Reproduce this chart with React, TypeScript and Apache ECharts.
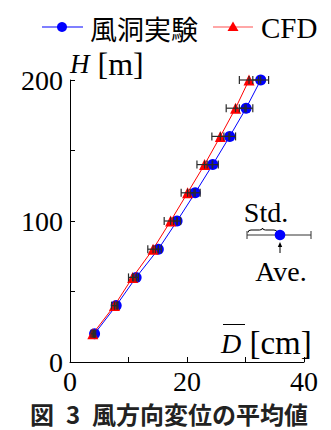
import React, { useEffect, useRef } from "react";
import * as echarts from "echarts";

const heights = [20, 40, 60, 80, 100, 120, 140, 160, 180, 200];
const windMean = [4.2, 7.9, 11.3, 15.1, 18.3, 21.4, 24.4, 27.3, 30.1, 32.6];
const windStd = [0.2, 0.3, 0.4, 0.5, 0.6, 0.85, 0.95, 1.0, 1.15, 1.35];
const cfdMean = [3.9, 7.6, 10.7, 14.2, 17.2, 20.1, 23.0, 25.7, 28.3, 30.6];
const cfdStd = [0.3, 0.5, 0.7, 0.9, 1.1, 1.1, 1.3, 1.45, 1.6, 1.65];
const xTickLabels = [0, 20, 40];
const yTickLabels = [0, 100, 200];

const SERIF = "Liberation Serif";
const JP = "Noto Sans CJK JP";

let braceRegistered = false;
function registerBrace() {
  if (braceRegistered) return;
  braceRegistered = true;
  const d =
    "M0,4.5 Q0,2 3,2 L11.5,2 Q14.5,2 14.5,0 Q14.5,2 17.5,2 L26,2 Q29,2 29,4.5";
  echarts.graphic.registerShape("brace", echarts.graphic.extendPath(d, {}) as any);
}

function errorRender(params: any, api: any) {
  const x = api.value(0);
  const y = api.value(1);
  const s = api.value(2);
  const c = api.coord([x, y]);
  const l = api.coord([x - s, y]);
  const r = api.coord([x + s, y]);
  const h = 4;
  const style = { stroke: "#2a2a2a", lineWidth: 1.2 };
  return {
    type: "group",
    children: [
      { type: "line", shape: { x1: l[0], y1: c[1], x2: r[0], y2: c[1] }, style },
      { type: "line", shape: { x1: l[0], y1: c[1] - h, x2: l[0], y2: c[1] + h }, style },
      { type: "line", shape: { x1: r[0], y1: c[1] - h, x2: r[0], y2: c[1] + h }, style },
      { type: "line", shape: { x1: c[0], y1: c[1] - h, x2: c[0], y2: c[1] + h }, style },
    ],
  };
}

const serifText = (text: string, extra: any = {}) => ({
  text,
  fill: "#000",
  fontFamily: SERIF,
  fontSize: 28,
  ...extra,
});

export default function App() {
  const ref = useRef<HTMLDivElement>(null);
  useEffect(() => {
    if (!ref.current) return;
    registerBrace();
    const chart = echarts.init(ref.current, null, { renderer: "svg" });
    const windData = heights.map((h, i) => [windMean[i], h]);
    const cfdData = heights.map((h, i) => [cfdMean[i], h]);
    const windErr = heights.map((h, i) => [windMean[i], h, windStd[i]]);
    const cfdErr = heights.map((h, i) => [cfdMean[i], h, cfdStd[i]]);
    chart.setOption({
      animation: false,
      backgroundColor: "#fff",
      grid: { left: 70, right: 27, top: 80, bottom: 68, containLabel: false },
      xAxis: {
        type: "value",
        min: 0,
        max: 40,
        interval: 10,
        axisLine: { show: true, lineStyle: { color: "#000", width: 1 } },
        axisTick: { show: true, inside: true, length: 5, lineStyle: { color: "#000" } },
        splitLine: { show: false },
        axisLabel: {
          fontFamily: SERIF,
          fontSize: 28,
          color: "#000",
          margin: 5,
          formatter: (v: number) => (xTickLabels.includes(v) ? String(v) : ""),
        },
      },
      yAxis: {
        type: "value",
        min: 0,
        max: 200,
        interval: 50,
        axisLine: { show: true, lineStyle: { color: "#000", width: 1 } },
        axisTick: { show: true, inside: true, length: 5, lineStyle: { color: "#000" } },
        splitLine: { show: false },
        axisLabel: {
          fontFamily: SERIF,
          fontSize: 28,
          color: "#000",
          margin: 7,
          formatter: (v: number) => (yTickLabels.includes(v) ? String(v) : ""),
        },
      },
      series: [
        {
          name: "風洞実験",
          type: "line",
          data: windData,
          symbol: "circle",
          symbolSize: 11,
          itemStyle: { color: "#0000ff" },
          lineStyle: { color: "#0000ff", width: 1 },
          z: 2,
        },
        {
          name: "CFD",
          type: "line",
          data: cfdData,
          symbol: "triangle",
          symbolSize: 11,
          itemStyle: { color: "#ff0000" },
          lineStyle: { color: "#ff0000", width: 1 },
          z: 3,
        },
        {
          type: "custom",
          data: windErr,
          renderItem: errorRender,
          encode: { x: 0, y: 1 },
          z: 5,
          silent: true,
        },
        {
          type: "custom",
          data: cfdErr,
          renderItem: errorRender,
          encode: { x: 0, y: 1 },
          z: 5,
          silent: true,
        },
      ],
      graphic: [
        // legend
        {
          type: "line",
          shape: { x1: 42, y1: 27, x2: 83, y2: 27 },
          style: { stroke: "#0000ff", lineWidth: 1.2 },
        },
        {
          type: "circle",
          shape: { cx: 62, cy: 27, r: 5 },
          style: { fill: "#0000ff" },
        },
        {
          type: "text",
          x: 90,
          y: 28,
          style: {
            text: "風洞実験",
            fill: "#000",
            fontFamily: JP,
            fontSize: 27,
            verticalAlign: "middle",
          },
        },
        {
          type: "line",
          shape: { x1: 213, y1: 27, x2: 253, y2: 27 },
          style: { stroke: "#ff5050", lineWidth: 1.2 },
        },
        {
          type: "polygon",
          shape: { points: [[233, 21.5], [227.5, 31], [238.5, 31]] },
          style: { fill: "#ff0000" },
        },
        {
          type: "text",
          x: 261,
          y: 28,
          style: serifText("CFD", { fontSize: 29, verticalAlign: "middle" }),
        },
        // axis names
        {
          type: "text",
          x: 70,
          y: 64,
          style: {
            text: "{i|H}{b| [m]}",
            fill: "#000",
            fontFamily: SERIF,
            fontSize: 28,
            verticalAlign: "middle",
            rich: {
              i: { fontFamily: SERIF, fontSize: 27, fontStyle: "italic", fill: "#000" },
              b: { fontFamily: SERIF, fontSize: 32, fill: "#000" },
            },
          },
        },
        {
          type: "text",
          x: 221,
          y: 343,
          style: {
            text: "{i|D}{b| [cm]}",
            fill: "#000",
            fontFamily: SERIF,
            fontSize: 28,
            verticalAlign: "middle",
            rich: {
              i: { fontFamily: SERIF, fontSize: 28, fontStyle: "italic", fill: "#000" },
              b: { fontFamily: SERIF, fontSize: 33, fill: "#000" },
            },
          },
        },
        {
          type: "line",
          shape: { x1: 223, y1: 324.5, x2: 245, y2: 324.5 },
          style: { stroke: "#000", lineWidth: 1 },
        },
        // Std./Ave. key
        {
          type: "text",
          x: 266,
          y: 212,
          style: serifText("Std.", { align: "center", verticalAlign: "middle" }),
        },
        {
          type: "line",
          shape: { x1: 247, y1: 235, x2: 311, y2: 235 },
          style: { stroke: "#333", lineWidth: 1 },
        },
        {
          type: "line",
          shape: { x1: 247, y1: 231, x2: 247, y2: 239 },
          style: { stroke: "#333", lineWidth: 1 },
        },
        {
          type: "line",
          shape: { x1: 311, y1: 231, x2: 311, y2: 239 },
          style: { stroke: "#333", lineWidth: 1 },
        },
        {
          type: "brace",
          x: 248,
          y: 228,
          style: { stroke: "#000", fill: null, lineWidth: 1 },
        },
        {
          type: "circle",
          shape: { cx: 280, cy: 235, r: 5.3 },
          style: { fill: "#0000ff" },
        },
        {
          type: "line",
          shape: { x1: 280, y1: 245, x2: 280, y2: 253 },
          style: { stroke: "#000", lineWidth: 1 },
        },
        {
          type: "polygon",
          shape: { points: [[280, 242], [277.8, 247], [282.2, 247]] },
          style: { fill: "#000" },
        },
        {
          type: "text",
          x: 281,
          y: 271,
          style: serifText("Ave.", { align: "center", verticalAlign: "middle" }),
        },
        // caption
        {
          type: "text",
          x: 169,
          y: 413,
          style: {
            text: "図\u20023\u2002風方向変位の平均値",
            fill: "#222",
            fontFamily: JP,
            fontSize: 24,
            lineHeight: 24,
            fontWeight: "bold",
            align: "center",
            verticalAlign: "middle",
          },
        },
      ],
    });
    return () => chart.dispose();
  }, []);
  return (
    <div
      ref={ref}
      style={{ position: "absolute", left: 0, top: 0, width: 331, height: 430 }}
    />
  );
}
